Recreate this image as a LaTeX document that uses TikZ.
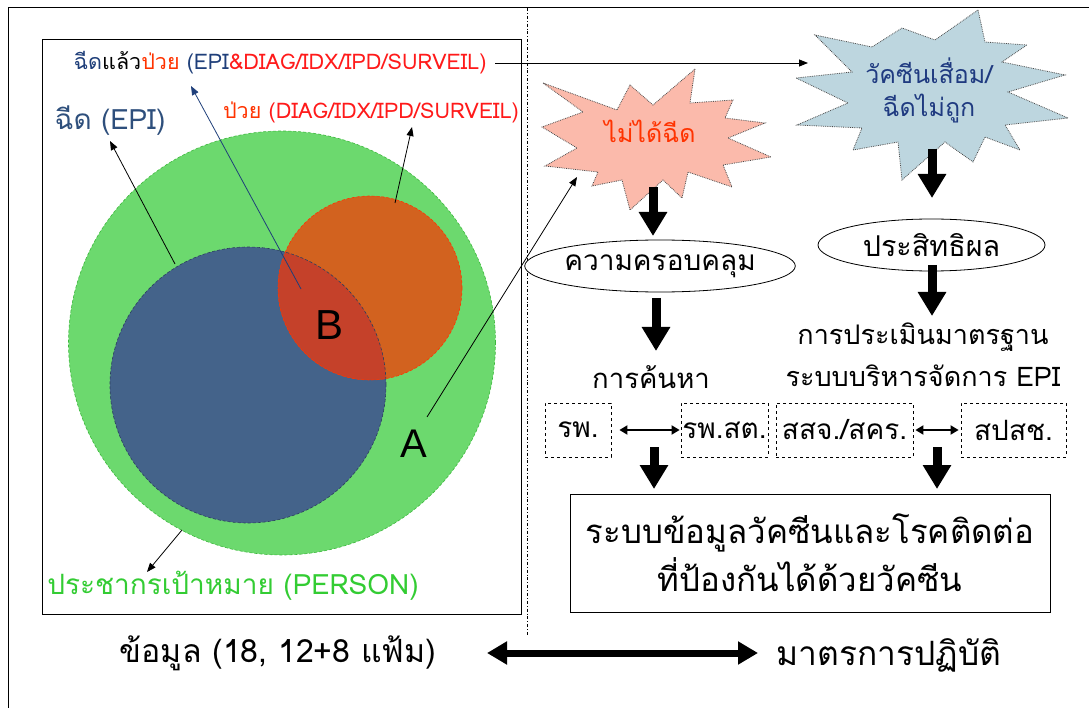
\documentclass[tikz,border=0pt]{standalone}
\usepackage{fontspec}
\setmainfont[Script=Thai]{Loma}
\newfontfamily\latinfont{Liberation Sans}
\usetikzlibrary{arrows.meta,shapes.geometric}

\definecolor{popgreen}{HTML}{6CD96E}
\definecolor{popgreenline}{HTML}{3CB83C}
\definecolor{epiblue}{HTML}{44638A}
\definecolor{epiblueline}{HTML}{2B3F5E}
\definecolor{sickorange}{HTML}{D2621F}
\definecolor{sickline}{HTML}{FF3300}
\definecolor{lens}{HTML}{C5412A}
\definecolor{navytext}{HTML}{1F3F7A}
\definecolor{epitext}{HTML}{2E4F7C}
\definecolor{redtext}{HTML}{FF1A1A}
\definecolor{orangetext}{HTML}{FF3300}
\definecolor{greentext}{HTML}{33CC33}
\definecolor{pinkstar}{HTML}{FBBAAB}
\definecolor{bluestar}{HTML}{BDD6DF}
\definecolor{starblue}{HTML}{1F3A80}

\tikzset{
  txt/.style={inner sep=0pt, align=center},
  thin arrow/.style={draw=black, line width=0.8pt, -{Triangle[length=9pt,width=7pt]}},
  bigarrow/.style={draw=black, line width=9pt, -{Triangle[width=27pt,length=24pt]}},
  starline/.style={draw=black!70, densely dotted, line width=0.8pt},
  oval/.style={ellipse, draw=black, fill=white, line width=0.8pt, inner sep=0pt},
  dashbox/.style={draw=black, dashed, line width=0.8pt, minimum height=54pt, inner sep=0pt, font=\fontsize{28}{30}\selectfont},
  twoway/.style={draw=black, line width=1.8pt, {Triangle[length=8pt,width=9pt]}-{Triangle[length=8pt,width=9pt]}}
}

\begin{document}
\begin{tikzpicture}[x=1pt,y=-1pt]
\useasboundingbox (0,0) rectangle (1089,708);

% page frame and divider
\draw[line width=1pt] (8,712) -- (8,8) -- (1095,8);
\draw[line width=0.8pt, dash dot] (527,8) -- (527,636);
\draw[line width=1pt] (42,40) rectangle (521,614);

% population sets
\fill[popgreen] (282,343) ellipse[x radius=213.5pt, y radius=212pt];
\draw[popgreenline, densely dashed, line width=0.6pt] (282,343) ellipse[x radius=213.5pt, y radius=212pt];
\fill[epiblue] (248,385) circle[radius=138pt];
\fill[sickorange] (370,288) circle[radius=92pt];
\begin{scope}
  \clip (248,385) circle[radius=138pt];
  \fill[lens] (370,288) circle[radius=92pt];
\end{scope}
\draw[epiblueline, densely dashed, line width=0.6pt] (248,385) circle[radius=138pt];
\draw[sickline, densely dashed, line width=0.6pt] (370,288) circle[radius=92pt];

\node[txt, font=\latinfont\fontsize{42}{42}\selectfont] (setB) at (330,325) {B};
\node[txt, font=\latinfont\fontsize{40}{40}\selectfont] (setA) at (414,444) {A};

% set labels
\node[txt, font=\fontsize{21.5}{24}\selectfont] (both) at (280,63)
  {\textcolor{navytext}{ฉีด}แล้ว\textcolor{orangetext}{ป่วย} \textcolor{navytext}{(EPI}\textcolor{redtext}{\&DIAG/IDX/IPD/SURVEIL)}};
\node[txt, font=\fontsize{28}{30}\selectfont, text=epitext] (epi) at (110,121) {ฉีด (EPI)};
\node[txt, font=\fontsize{21.5}{24}\selectfont, text=redtext] (sick) at (371,112)
  {\textcolor{orangetext}{ป่วย} (DIAG/IDX/IPD/SURVEIL)};
\node[txt, font=\fontsize{28}{30}\selectfont, text=greentext] (person) at (233,586) {ประชากรเป้าหมาย (PERSON)};

\coordinate (epiedge) at (175,264);
\coordinate (epitip) at (110,141);
\coordinate (sickedge) at (395,203);
\coordinate (sicktip) at (412,127);
\coordinate (lensin) at (301,289);
\coordinate (bothtip) at (191,86);
\coordinate (greenedge) at (182,530);
\coordinate (persontip) at (147,572);
\coordinate (Aline) at (427,417);
\coordinate (pinktip) at (577,177);
\coordinate (bothend) at (495,63);
\coordinate (bluetip) at (808,63);

\draw[thin arrow] (epiedge) -- (epitip);
\draw[thin arrow] (sickedge) -- (sicktip);
\draw[thin arrow, draw=navytext] (lensin) -- (bothtip);
\draw[thin arrow] (greenedge) -- (persontip);
\draw[thin arrow] (Aline) -- (pinktip);
\draw[thin arrow] (bothend) -- (bluetip);

% burst: not vaccinated
\filldraw[fill=pinkstar, starline]
  (695,69) -- (690,103) -- (733,100) -- (725,118) -- (765,123) -- (728,138)
  -- (771,157) -- (723,165) -- (732,187) -- (688,172) -- (682,198) -- (663,180)
  -- (630,210) -- (622,180) -- (592,186) -- (598,172) -- (545,166) -- (577,148)
  -- (542,127) -- (583,112) -- (543,83) -- (617,110) -- (630,85) -- (653,105) -- cycle;
\node[txt, font=\fontsize{25}{28}\selectfont, text=orangetext] (pink) at (650,131) {ไม่ได้ฉีด};

% burst: vaccine failure
\filldraw[fill=bluestar, starline]
  (978,10) -- (985,42) -- (1027,45) -- (1002,62) -- (1065,75) -- (1008,92)
  -- (1068,118) -- (1005,125) -- (1020,150) -- (985,137) -- (973,162) -- (945,142)
  -- (902,180) -- (898,142) -- (853,150) -- (862,128) -- (797,125) -- (848,103)
  -- (796,78) -- (852,72) -- (815,35) -- (872,47) -- (902,28) -- (935,40) -- cycle;
\node[txt, font=\fontsize{25}{33}\selectfont, text=starblue] (blue) at (929,90) {วัคซีนเสื่อม/\\ฉีดไม่ถูก};

% flow, left column
\node[oval, minimum width=254pt, minimum height=52pt, font=\fontsize{28}{30}\selectfont] (cover) at (660,266) {ความครอบคลุม};
\node[txt, font=\fontsize{27.5}{30}\selectfont] (search) at (651,377) {การค้นหา};
\node[dashbox, minimum width=66pt] (hosp) at (578,430) {รพ.};
\node[dashbox, minimum width=87pt] (hph) at (724.5,430) {รพ.สต.};

% flow, right column
\node[oval, minimum width=227pt, minimum height=52pt, font=\fontsize{28.7}{30}\selectfont] (effect) at (931.5,245) {ประสิทธิผล};
\node[txt, font=\fontsize{27}{42}\selectfont] (assess) at (923,355) {การประเมินมาตรฐาน\\ระบบบริหารจัดการ EPI};
\node[dashbox, minimum width=137pt] (ppho) at (844.5,430) {สสจ./สคร.};
\node[dashbox, minimum width=105pt] (nhso) at (1013.5,430) {สปสช.};

% information system box
\node[draw=black, line width=1pt, minimum width=480pt, minimum height=118pt, inner sep=0pt, align=center,
      font=\fontsize{33}{48}\selectfont] (infosys) at (810,553)
  {ระบบข้อมูลวัคซีนและโรคติดต่อ\\ที่ป้องกันได้ด้วยวัคซีน};

\coordinate (pinkS) at (653,187);
\coordinate (blueS) at (932,149);
\coordinate (coverS) at (656,298);
\coordinate (effectS) at (932,265);
\coordinate (leftrow) at (654,447);
\coordinate (rightrow) at (937,447);

\draw[bigarrow] (pinkS) -- (653,236) coordinate (coverN);
\draw[bigarrow] (coverS) -- (656,351) coordinate (searchN);
\draw[bigarrow] (blueS) -- (932,198) coordinate (effectN);
\draw[bigarrow] (effectS) -- (932,316) coordinate (assessN);
\draw[bigarrow] (leftrow) -- (654,489) coordinate (infoNL);
\draw[bigarrow] (rightrow) -- (937,489) coordinate (infoNR);

\draw[twoway] ([xshift=8pt]hosp.east) -- ([xshift=-1pt]hph.west);
\draw[twoway] ([xshift=2pt]ppho.east) -- ([xshift=-2pt]nhso.west);

% bottom line
\node[txt, font=\fontsize{32}{34}\selectfont] (data) at (278,653) {ข้อมูล (18, 12+8 แฟ้ม)};
\node[txt, font=\fontsize{33.5}{36}\selectfont] (measure) at (889,655) {มาตรการปฏิบัติ};
\coordinate (dataR) at (487,653);
\coordinate (measureL) at (758,653);
\draw[draw=black, line width=7pt, {Triangle[length=20pt,width=22pt]}-{Triangle[length=20pt,width=22pt]}] (dataR) -- (measureL);
\end{tikzpicture}
\end{document}
